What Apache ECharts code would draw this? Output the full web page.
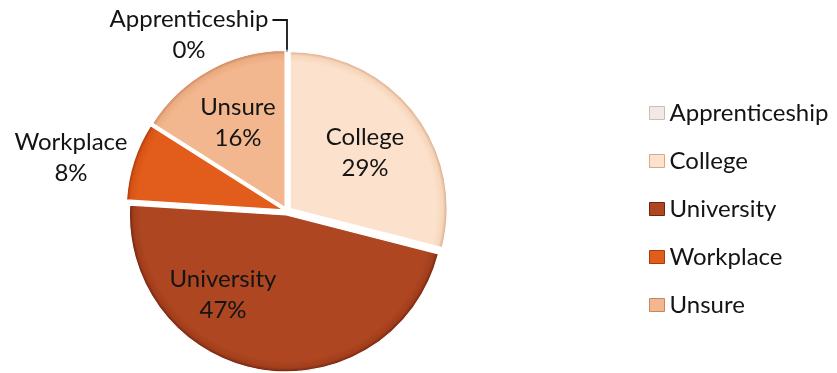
<!DOCTYPE html>
<html>
<head>
<meta charset="utf-8">
<title>Post-secondary plans</title>
<script src="https://cdn.jsdelivr.net/npm/echarts@6/dist/echarts.min.js"></script>
<style>
  html, body { margin: 0; padding: 0; background: #ffffff; }
  #chart { width: 837px; height: 373px; }
</style>
</head>
<body>
<div id="chart"></div>
<script>
// Destinations and their share of respondents (percent)
var categories = ['Apprenticeship', 'College', 'University', 'Workplace', 'Unsure'];
var shares = [0, 29, 47, 8, 16];
var baseColors = ['#f4e8e6', '#fce2cc', '#ad4621', '#e25d1b', '#f2b78e'];
var bandColors = ['#ecdedc', '#f6d5bb', '#a23d1b', '#d75416', '#ecab80'];
var rimColors = ['#cdbcba', '#d9a987', '#6e2410', '#a83a0c', '#c98660'];

var font = 'Lato, "Open Sans", sans-serif';
var cx = 287, cy = 211, R = 157;

// Where each slice's label sits, relative to the pie centre
var labelAnchor = {
  Apprenticeship: [-98, -176],
  College: [78, -58],
  University: [-64, 84],
  Workplace: [-216, -53],
  Unsure: [-49, -88]
};

// Flat fill with a slim bevelled rim along the outer arc
function sliceFill(i) {
  return {
    type: 'radial', x: cx, y: cy, r: R, global: true,
    colorStops: [
      { offset: 0, color: baseColors[i] },
      { offset: 0.93, color: baseColors[i] },
      { offset: 0.975, color: bandColors[i] },
      { offset: 1, color: rimColors[i] }
    ]
  };
}

// Exploded slices (every slice pulled slightly outward)
var sliceData = categories.map(function (name, i) {
  return { name: name, value: shares[i], selected: true, itemStyle: { color: sliceFill(i) } };
});

// Same values again, drawn invisibly, carrying the data labels
var labelData = categories.map(function (name, i) {
  var outside = (name === 'Apprenticeship' || name === 'Workplace');
  return {
    name: name,
    value: shares[i],
    label: { position: outside ? 'outside' : 'inside' },
    labelLine: { show: name === 'Apprenticeship' }
  };
});

var chart = echarts.init(document.getElementById('chart'), null, { renderer: 'canvas' });
chart.setOption({
  animation: false,
  backgroundColor: '#ffffff',
  legend: {
    orient: 'vertical',
    left: 644,
    top: 95,
    itemWidth: 15,
    itemHeight: 13,
    itemGap: 22,
    icon: 'rect',
    selectedMode: false,
    textStyle: { fontFamily: font, fontSize: 24, color: '#141414', lineHeight: 26 },
    data: categories.map(function (name, i) {
      return { name: name, itemStyle: { color: baseColors[i], borderColor: rimColors[i], borderWidth: 1 } };
    })
  },
  series: [{
    type: 'pie',
    center: [cx, cy],
    radius: R,
    startAngle: 90,
    clockwise: true,
    selectedMode: 'multiple',
    selectedOffset: 4,
    itemStyle: { borderColor: '#ffffff', borderWidth: 1.2 },
    label: { show: false },
    labelLine: { show: false },
    emphasis: { disabled: true },
    silent: true,
    data: sliceData
  }, {
    type: 'pie',
    center: [cx, cy],
    radius: R,
    startAngle: 90,
    clockwise: true,
    avoidLabelOverlap: false,
    silent: true,
    itemStyle: { color: 'transparent', borderWidth: 0 },
    label: {
      show: true,
      formatter: '{b}\n{c}%',
      fontFamily: font,
      fontSize: 24,
      lineHeight: 31,
      color: '#141414',
      align: 'center'
    },
    labelLine: { show: false, lineStyle: { color: '#141414', width: 1.8 } },
    labelLayout: function (params) {
      var name = categories[params.dataIndex];
      var a = labelAnchor[name];
      var out = { x: cx + a[0], y: cy + a[1], align: 'center', verticalAlign: 'middle' };
      if (name === 'Apprenticeship') {
        var textRight = cx + a[0] + params.labelRect.width / 2 + 4;
        var lineY = cy + a[1] - 15;
        out.labelLinePoints = [[cx, cy - R - 2], [cx, lineY], [textRight, lineY]];
      }
      return out;
    },
    emphasis: { disabled: true },
    data: labelData
  }]
});
</script>
</body>
</html>
